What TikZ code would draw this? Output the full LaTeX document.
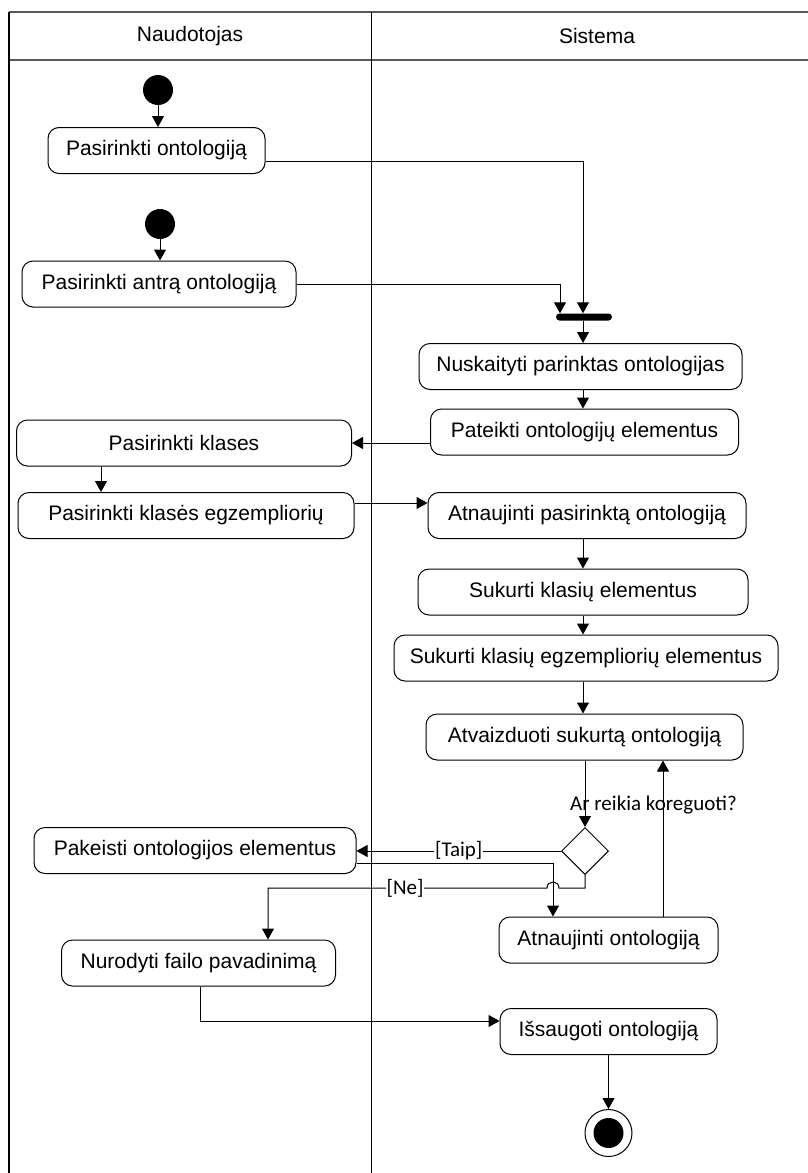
\documentclass[tikz,border=0pt]{standalone}
\usepackage{fontspec}
\setmainfont{Liberation Sans}
\newfontfamily\lblfont{Carlito}
\usetikzlibrary{arrows.meta,shapes.geometric}

\tikzset{
  act/.style={draw, line width=1pt, rounded corners=11pt, inner sep=0pt,
    minimum height=46pt, align=center, font=\fontsize{21}{25}\selectfont},
  startdot/.style={circle, fill=black, inner sep=0pt, minimum size=30pt},
  forkbar/.style={fill=black, rounded corners=3.5pt, inner sep=0pt,
    minimum width=56pt, minimum height=7pt},
  choice/.style={diamond, draw, line width=1pt, inner sep=0pt,
    minimum width=47pt, minimum height=47pt},
  flow/.style={line width=1pt, -{Triangle[length=11pt,width=12pt]}},
  guard/.style={fill=white, inner sep=1pt, font=\lblfont\fontsize{21}{25}\selectfont},
  lane/.style={line width=1.2pt},
  lanehead/.style={font=\fontsize{21}{25}\selectfont}
}

\begin{document}
\begin{tikzpicture}[x=1pt, y=-1pt]
\useasboundingbox (0,0) rectangle (808,1173);

% swimlanes
\draw[lane, black!65] (9,12) -- (808,12);
\draw[lane, black!65] (9,60) -- (808,60);
\draw[lane] (9,12) -- (9,1173);
\draw[lane] (371.5,12) -- (371.5,1173);
\node[lanehead] (hUser) at (190,36) {Naudotojas};
\node[lanehead] (hSys) at (597,36) {Sistema};

% helper columns
\coordinate (fx) at (583,0);
\coordinate (lx) at (101,0);
\coordinate (hx) at (553,0);
\coordinate (ux) at (663,0);
\coordinate (bx) at (200,0);

% user lane
\node[startdot] (s1) at (158,90) {};
\node[act, minimum width=217pt] (b1) at (156.5,150.5) {Pasirinkti ontologiją};
\node[startdot] (s2) at (160,224) {};
\node[act, minimum width=274pt] (b2) at (159,284) {Pasirinkti antrą ontologiją};
\node[act, minimum width=335pt] (b5) at (184,443) {Pasirinkti klases};
\node[act, minimum width=336pt] (b6) at (186,515.5) {Pasirinkti klasės egzempliorių};
\node[act, minimum width=322pt] (b11) at (195,850.5) {Pakeisti ontologijos elementus};
\node[act, minimum width=274pt] (b13) at (198.5,963) {Nurodyti failo pavadinimą};

% system lane
\node[forkbar] (bar) at (584,317) {};
\node[act, minimum width=323pt] (b3) at (580.5,366.5) {Nuskaityti parinktas ontologijas};
\node[act, minimum width=308pt] (b4) at (584.5,432) {Pateikti ontologijų elementus};
\node[act, minimum width=318pt] (b7) at (587,515.5) {Atnaujinti pasirinktą ontologiją};
\node[act, minimum width=330pt] (b8) at (583,592) {Sukurti klasių elementus};
\node[act, minimum width=384pt] (b9) at (586,658) {Sukurti klasių egzempliorių elementus};
\node[act, minimum width=317pt] (b10) at (584.5,737) {Atvaizduoti sukurtą ontologiją};
\node[choice] (d) at (585,851) {};
\node[act, minimum width=219pt] (b12) at (608.5,940) {Atnaujinti ontologiją};
\node[act, minimum width=217pt] (b14) at (608.5,1031.5) {Išsaugoti ontologiją};
\node[circle, draw, line width=1pt, inner sep=0pt, minimum size=47pt] (fin) at (608.5,1133) {};
\node[circle, fill=black, inner sep=0pt, minimum size=30pt] (finDot) at (fin) {};

% transitions
\draw[flow] (s1.south) -- (s1.south |- b1.north);
\draw[flow] (s2.south) -- (s2.south |- b2.north);
\draw[flow] ([yshift=-11pt]b1.east) -| ([xshift=-1pt]bar.north);
\draw[flow] (b2.east) -| ([xshift=-24pt]bar.north);
\draw[flow] ([xshift=-1pt]bar.south) -- ([xshift=-1pt]bar.south |- b3.north);
\draw[flow] (b3.south -| fx) -- (b4.north -| fx);
\draw[flow] (b4.west |- b5.east) -- (b5.east);
\draw[flow] (b5.south -| lx) -- (b6.north -| lx);
\draw[flow] ([yshift=12.5pt]b6.east) -- ([yshift=12.5pt]b7.west);
\draw[flow] (b7.south -| fx) -- (b8.north -| fx);
\draw[flow] (b8.south -| fx) -- (b9.north -| fx);
\draw[flow] (b9.south -| fx) -- (b10.north -| fx);
\draw[flow] (b10.south -| d) -- (d.north);
\node[anchor=base west, inner sep=0pt, font=\lblfont\fontsize{21}{25}\selectfont]
  (q) at (570,810) {Ar reikia koreguoti?};

% [Taip] branch
\draw[flow] (d.west) -- (d.west -| b11.east)
  node[guard, pos=0.5] (lTaip) {[Taip]};
\draw[flow] ([yshift=-12.5pt]b11.east) -| (b12.north -| hx);
\draw[flow] (b12.north -| ux) -- (b10.south -| ux);

% [Ne] branch, hopping over the line above
\draw[flow] (d.south) -- (585,888) -- (559,888)
  .. controls (559,880) and (547,880) .. (547,888)
  -- (268,888) -- (b13.north -| 268,0);
\node[guard] (lNe) at (405,888) {[Ne]};

\draw[flow] (b13.south -| bx) |- ([yshift=10.5pt]b14.west);
\draw[flow] (b14.south) -- (fin.north);
\end{tikzpicture}
\end{document}
